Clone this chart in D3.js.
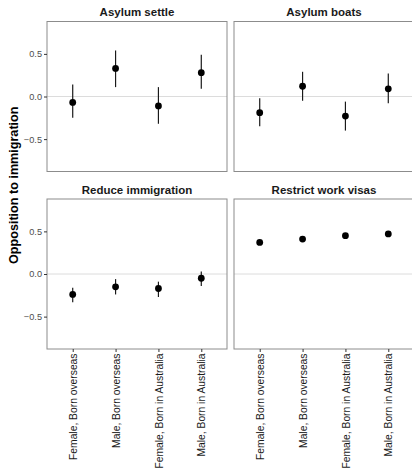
<!doctype html>
<html lang="en">
<head>
<meta charset="utf-8" />
<title>Opposition to immigration</title>
<script src="https://d3js.org/d3.v7.min.js"></script>
<style>
  body { margin: 0; background: #fff; }
  text { font-family: "Liberation Sans", Arial, Helvetica, sans-serif; }
</style>
</head>
<body>
<div id="chart"></div>
<script>
// groups on the x axis
const groups = ["Female, Born overseas", "Male, Born overseas", "Female, Born in Australia", "Male, Born in Australia"];
// facet titles, in reading order
const panels = ["Asylum settle", "Asylum boats", "Reduce immigration", "Restrict work visas"];
const yTicks = [-0.5, 0.0, 0.5];

// estimates and confidence limits, one array per panel
const asylumSettle = [-0.07, 0.33, -0.11, 0.28];
const asylumSettleLo = [-0.25, 0.11, -0.32, 0.09];
const asylumSettleHi = [0.14, 0.54, 0.11, 0.49];

const asylumBoats = [-0.19, 0.12, -0.23, 0.09];
const asylumBoatsLo = [-0.35, -0.05, -0.40, -0.08];
const asylumBoatsHi = [-0.02, 0.29, -0.06, 0.27];

const reduceImm = [-0.24, -0.15, -0.17, -0.05];
const reduceImmLo = [-0.33, -0.24, -0.27, -0.14];
const reduceImmHi = [-0.16, -0.06, -0.09, 0.03];

const workVisas = [0.37, 0.41, 0.45, 0.47];
const workVisasLo = [0.35, 0.39, 0.43, 0.45];
const workVisasHi = [0.39, 0.43, 0.47, 0.49];

const series = [
  [asylumSettle, asylumSettleLo, asylumSettleHi],
  [asylumBoats, asylumBoatsLo, asylumBoatsHi],
  [reduceImm, reduceImmLo, reduceImmHi],
  [workVisas, workVisasLo, workVisasHi]
];

const W = 412, H = 473;
const panelW = 180, panelH = 150;
const colX = [47, 234];
const rowY = [21.5, 199];

const svg = d3.select("#chart").append("svg")
  .attr("width", W).attr("height", H);

const x = d3.scalePoint().domain(groups).range([0, panelW]).padding(0.6);
const y = d3.scaleLinear().domain([-0.88, 0.88]).range([panelH, 0]);

panels.forEach((name, i) => {
  const col = i % 2, row = Math.floor(i / 2);
  const g = svg.append("g").attr("transform", `translate(${colX[col]},${rowY[row]})`);
  const [est, lo, hi] = series[i];

  // zero reference line
  g.append("line")
    .attr("x1", 0).attr("x2", panelW)
    .attr("y1", y(0)).attr("y2", y(0))
    .attr("stroke", "#dcdcdc").attr("stroke-width", 1);

  // error bars
  g.selectAll(".err").data(groups).enter().append("line")
    .attr("x1", d => x(d)).attr("x2", d => x(d))
    .attr("y1", (d, j) => y(lo[j])).attr("y2", (d, j) => y(hi[j]))
    .attr("stroke", "#1a1a1a").attr("stroke-width", 1.2);

  // points
  g.selectAll(".pt").data(groups).enter().append("circle")
    .attr("cx", d => x(d)).attr("cy", (d, j) => y(est[j]))
    .attr("r", 3.4).attr("fill", "#000");

  // panel border
  g.append("rect")
    .attr("x", 0).attr("y", 0).attr("width", panelW).attr("height", panelH)
    .attr("fill", "none").attr("stroke", "#8c8c8c").attr("stroke-width", 1);

  // strip title
  g.append("text")
    .attr("x", panelW / 2).attr("y", -5.5)
    .attr("text-anchor", "middle")
    .attr("font-size", 11.5).attr("font-weight", "bold").attr("fill", "#1a1a1a")
    .text(name);

  // y axis on the left column
  if (col === 0) {
    const ya = g.append("g")
      .call(d3.axisLeft(y).tickValues(yTicks).tickSize(3).tickPadding(2)
        .tickFormat(d => d3.format(".1f")(d).replace("-", "\u2212")));
    ya.select(".domain").remove();
    ya.selectAll(".tick line").attr("stroke", "#333");
    ya.selectAll(".tick text").attr("fill", "#4d4d4d").attr("font-size", 9.2)
      .style("font-family", "'Liberation Sans', Arial, sans-serif");
  }

  // x axis on the bottom row
  if (row === 1) {
    const xa = g.append("g").attr("transform", `translate(0,${panelH})`)
      .call(d3.axisBottom(x).tickSize(3).tickPadding(2));
    xa.select(".domain").remove();
    xa.selectAll(".tick line").attr("stroke", "#333");
    xa.selectAll(".tick text")
      .attr("fill", "#1a1a1a").attr("font-size", 10.3)
      .style("font-family", "'Liberation Sans', Arial, sans-serif")
      .attr("text-anchor", "end")
      .attr("dy", "0.35em")
      .attr("transform", "translate(0,4.5) rotate(-90)")
      .attr("x", 0).attr("y", 0);
  }
});

// shared y title
svg.append("text")
  .attr("transform", `translate(18,${(rowY[0] + rowY[1] + panelH) / 2}) rotate(-90)`)
  .attr("text-anchor", "middle")
  .attr("font-size", 12.6).attr("font-weight", "bold").attr("fill", "#000")
  .text("Opposition to immigration");
</script>
</body>
</html>
